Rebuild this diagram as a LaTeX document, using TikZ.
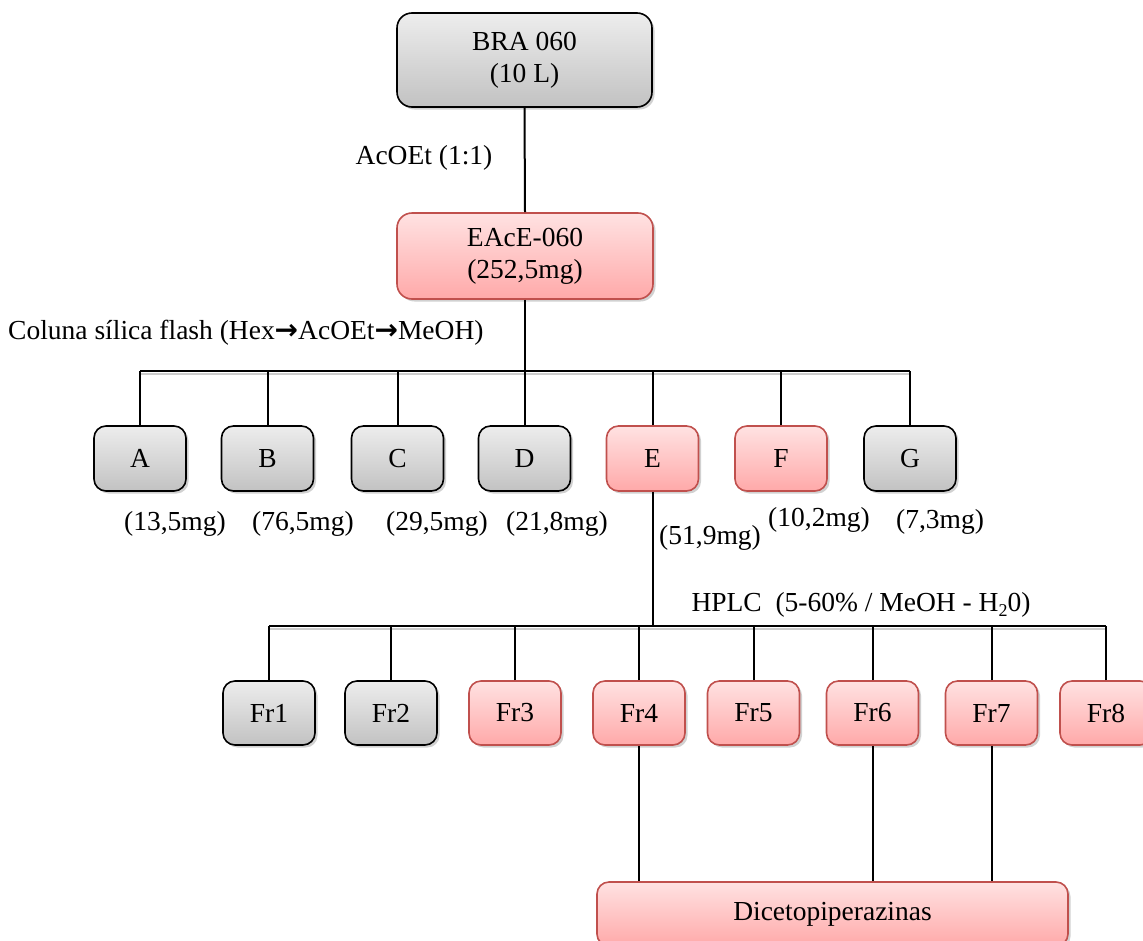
\documentclass[tikz,border=0pt]{standalone}
\usepackage{fontspec}
\setmainfont{Liberation Serif}
\newfontfamily\arrowfont{DejaVu Sans}
\usetikzlibrary{shadows}
\definecolor{pinkborder}{HTML}{C0504D}
\definecolor{pinktop}{HTML}{FFE2E2}
\definecolor{pinkbot}{HTML}{FFA9A9}
\definecolor{graytop}{HTML}{EDEDED}
\definecolor{graybot}{HTML}{C2C2C2}
\newcommand{\rarr}{{\arrowfont\bfseries\fontsize{28}{31}\selectfont →}}
\begin{document}
\begin{tikzpicture}[x=1pt,y=-1pt,
  every node/.style={font=\fontsize{27.5}{32}\selectfont, inner sep=0pt},
  boxbase/.style={rectangle, rounded corners=12pt, line width=1.6pt, align=center,
    drop shadow={shadow xshift=2.5pt, shadow yshift=-2.5pt, fill=black!30, opacity=0.6}},
  graybox/.style={boxbase, draw=black, top color=graytop, bottom color=graybot},
  pinkbox/.style={boxbase, draw=pinkborder, top color=pinktop, bottom color=pinkbot},
  small/.style={minimum width=92pt, minimum height=65pt},
  conn/.style={line width=2pt, black},
  busline/.style={line width=2pt, black, preaction={draw=black!20, line width=2pt, transform canvas={yshift=-3pt}}},
  lbl/.style={}
]
\useasboundingbox (0,0) rectangle (1143,940);
\clip (0,0) rectangle (1143,940);

% top boxes
\node[graybox, minimum width=255pt, minimum height=94pt, rounded corners=15pt] (bra) at (524.5,60) {BRA 060\\(10 L)};
\node[pinkbox, minimum width=256pt, minimum height=86pt, rounded corners=15pt] (eace) at (525,256) {EAcE-060\\(252,5mg)};
\node[lbl] (acoet) at (424,158) {AcOEt (1:1)};
\node[lbl, anchor=west] (coluna) at (8,333) {Coluna sílica flash (Hex\rarr AcOEt\rarr MeOH)};

% first row
\node[graybox, small] (A) at (140,458.5) {A};
\node[graybox, small] (B) at (267.5,458.5) {B};
\node[graybox, small] (C) at (397.5,458.5) {C};
\node[graybox, small] (D) at (524.5,458.5) {D};
\node[pinkbox, small] (E) at (652.5,458.5) {E};
\node[pinkbox, small] (F) at (781,458.5) {F};
\node[graybox, small] (G) at (910,458.5) {G};

\node[lbl] (mA) at (175,524) {(13,5mg)};
\node[lbl] (mB) at (303,524) {(76,5mg)};
\node[lbl] (mC) at (437,524) {(29,5mg)};
\node[lbl] (mD) at (557,524) {(21,8mg)};
\node[lbl] (mE) at (710,538) {(51,9mg)};
\node[lbl] (mF) at (819,520) {(10,2mg)};
\node[lbl] (mG) at (940,522) {(7,3mg)};

% second row
\node[graybox, small, minimum height=64pt] (f1) at (269,713) {Fr1};
\node[graybox, small, minimum height=64pt] (f2) at (391,713) {Fr2};
\node[pinkbox, small, minimum height=64pt] (f3) at (515,713) {Fr3};
\node[pinkbox, small, minimum height=64pt] (f4) at (639,713) {Fr4};
\node[pinkbox, small, minimum height=64pt] (f5) at (753.5,713) {Fr5};
\node[pinkbox, small, minimum height=64pt] (f6) at (872.5,713) {Fr6};
\node[pinkbox, small, minimum height=64pt] (f7) at (991.5,713) {Fr7};
\node[pinkbox, small, minimum height=64pt] (f8) at (1106,713) {Fr8};

\node[lbl] (hplc) at (861,605) {HPLC\ \ (5-60\% / MeOH - H\raisebox{-0.35ex}{\fontsize{18}{18}\selectfont 2}0)};

\node[pinkbox, minimum width=471pt, minimum height=64pt] (dic) at (832.5,914) {Dicetopiperazinas};

% connectors
\draw[conn] (bra.south) -- (eace.north);
\coordinate (b1L) at (140,371);
\coordinate (b1R) at (910,371);
\coordinate (b1M) at (525,371);
\draw[conn] (eace.south) -- (b1M);
\draw[busline] (b1L) -- (b1R);
\foreach \n in {A,B,C,D,E,F,G}{
  \draw[conn] (\n.north) -- (\n.north |- b1L);
}
\coordinate (b2L) at (269,626);
\coordinate (b2R) at (1106,626);
\draw[busline] (b2L) -- (b2R);
\draw[conn] (E.south) -- (E.south |- b2L);
\foreach \n in {f1,f2,f3,f4,f5,f6,f7,f8}{
  \draw[conn] (\n.north) -- (\n.north |- b2L);
}
\draw[conn] (f4.south) -- (f4.south |- dic.north);
\draw[conn] (f6.south) -- (f6.south |- dic.north);
\draw[conn] (f7.south) -- (f7.south |- dic.north);
\end{tikzpicture}
\end{document}
